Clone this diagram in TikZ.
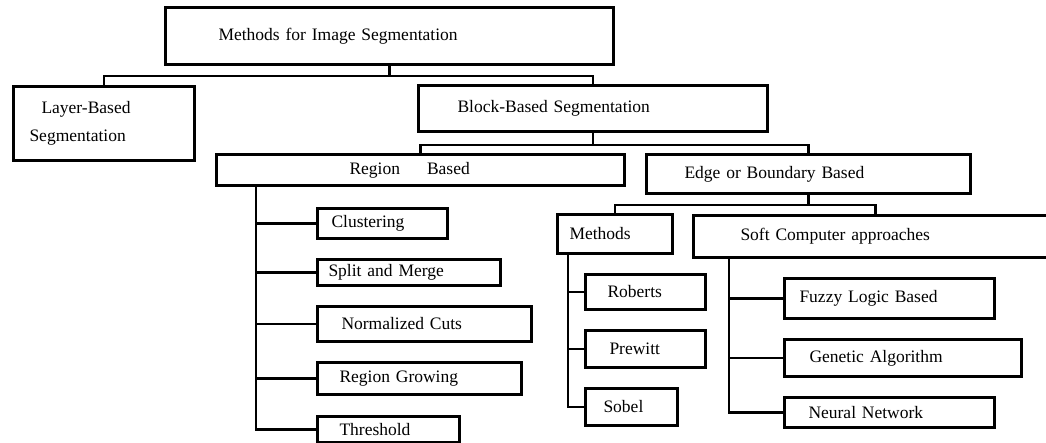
\documentclass[tikz,border=0pt]{standalone}
\usepackage{fontspec}
\setmainfont{Liberation Serif}
\tikzset{
  box/.style={draw, line width=3pt, anchor=north west, align=left,
              inner ysep=0pt, font=\fontsize{17.5}{28}\selectfont},
  link/.style={line width=2.4pt}
}
% px-like units, y grows downwards
\newcommand{\bx}[7]{\node[box, minimum height=#5, inner xsep=#6,
  text width=#4-2*#6] (#1) at (#2,#3) {#7};}
\begin{document}
\begin{tikzpicture}[x=1pt, y=-1pt]
  \useasboundingbox (0,0) rectangle (1046,442);
  \bx{top}{164}{6}{448}{57}{53}{Methods for Image Segmentation}
  \bx{layer}{12}{85}{181}{74}{16}{\hspace*{12pt}Layer-Based\\Segmentation}
  \bx{block}{417}{84}{349}{46}{39}{Block-Based Segmentation}
  \bx{region}{215}{153}{408}{31}{133}{Region\hspace{27pt}Based}
  \bx{edge}{645}{153}{324}{39}{38}{Edge or Boundary Based}
  \bx{clus}{316}{207}{130}{30}{14}{Clustering}
  \bx{split}{316}{258}{183}{26}{11}{Split and Merge}
  \bx{norm}{316}{305}{214}{35}{24}{Normalized Cuts}
  \bx{grow}{316}{361}{204}{32}{22}{Region Growing}
  \bx{thr}{316}{415}{142}{26}{22}{Threshold}
  \bx{meth}{556}{213}{115}{39}{12}{Methods}
  \bx{soft}{692}{214}{364}{42}{47}{Soft Computer approaches}
  \bx{rob}{584}{273}{120}{35}{22}{Roberts}
  \bx{pre}{584}{329}{120}{37}{24}{Prewitt}
  \bx{sob}{584}{387}{92}{37}{18}{Sobel}
  \bx{fuz}{783}{277}{210}{40}{15}{Fuzzy Logic Based}
  \bx{gen}{783}{338}{237}{37}{25}{Genetic Algorithm}
  \bx{neu}{783}{396}{210}{30}{24}{Neural Network}
  % tree links
  \draw[link] (top.south) -- ++(0,10) -| (layer.north);
  \draw[link] (top.south) -- ++(0,10) -| (block.north);
  \draw[link] (block.south) -- ++(0,12) -| (region.north);
  \draw[link] (block.south) -- ++(0,12) -| (edge.north);
  \draw[link] (edge.south) -- ++(0,10) -| (meth.north);
  \draw[link] (edge.south) -- ++(0,10) -| (soft.north);
  % trunks
  \coordinate (rt) at ([xshift=41pt]region.south west);
  \coordinate (mt) at ([xshift=12pt]meth.south west);
  \coordinate (st) at ([xshift=37pt]soft.south west);
  \foreach \n in {clus,split,norm,grow,thr} \draw[link] (rt) |- (\n.west);
  \foreach \n in {rob,pre,sob} \draw[link] (mt) |- (\n.west);
  \foreach \n in {fuz,gen,neu} \draw[link] (st) |- (\n.west);
\end{tikzpicture}
\end{document}
